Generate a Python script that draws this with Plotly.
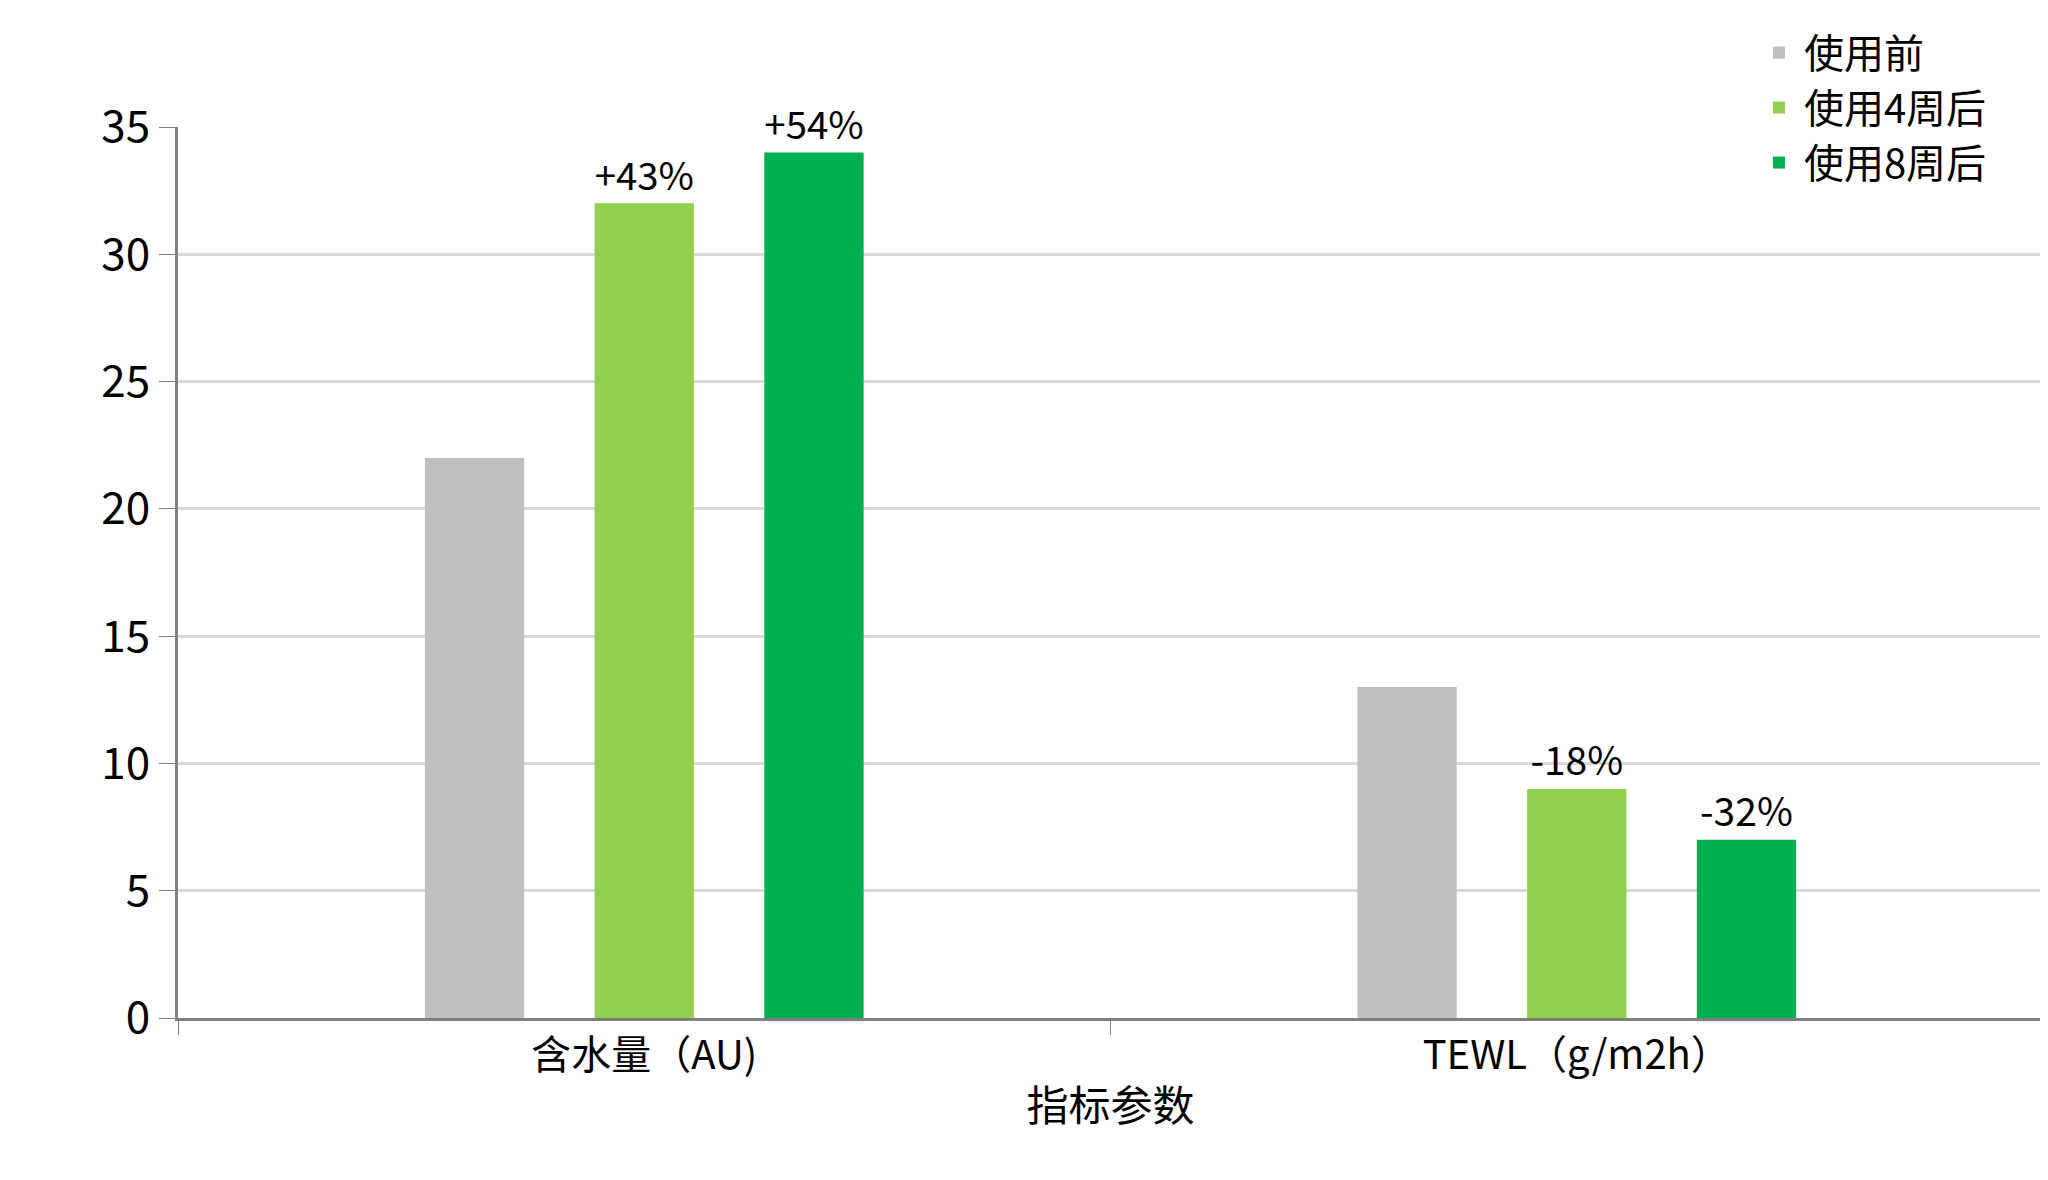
import plotly.graph_objects as go

categories = ["含水量（AU)", "TEWL（g/m2h）"]
series_names = ["使用前", "使用4周后", "使用8周后"]
values_before = [22, 13]
values_4w = [32, 9]
values_8w = [34, 7]
labels_before = ["", ""]
labels_4w = ["+43%", "-18%"]
labels_8w = ["+54%", "-32%"]
colors = ["#BFBFBF", "#92D050", "#00B050"]

font = "Noto Sans CJK SC, Microsoft YaHei, sans-serif"
fig = go.Figure()
for name, vals, labs, c in zip(series_names, [values_before, values_4w, values_8w],
                                [labels_before, labels_4w, labels_8w], colors):
    fig.add_trace(go.Bar(x=categories, y=vals, name=name, marker_color=c,
                         text=labs, textposition="outside", cliponaxis=False,
                         textfont=dict(size=39, color="#000"), marker_line_width=0))

fig.update_layout(
    width=2048, height=1180, plot_bgcolor="white", paper_bgcolor="white",
    font=dict(family=font, color="#000"),
    margin=dict(l=170, r=13, t=106, b=170),
    barmode="group", bargap=0.454, bargroupgap=0.415,
    legend=dict(x=0.845, y=1.12, xanchor="left", yanchor="top",
                font=dict(size=40), bgcolor="rgba(0,0,0,0)", tracegroupgap=6,
                itemwidth=40),
    xaxis=dict(type="category", tickson="boundaries", ticks="outside", ticklen=14,
               tickcolor="#808080", showline=True, linecolor="#808080", linewidth=3,
               tickfont=dict(size=40),
               title=dict(text="指标参数", font=dict(size=42), standoff=12)),
    yaxis=dict(range=[0, 35], dtick=5, showgrid=True, gridcolor="#D9D9D9", gridwidth=3,
               ticks="outside", ticklen=16, tickcolor="#808080", showline=True,
               linecolor="#808080", linewidth=3, tickfont=dict(size=44), zeroline=False),
)
fig.write_html("out.html")
